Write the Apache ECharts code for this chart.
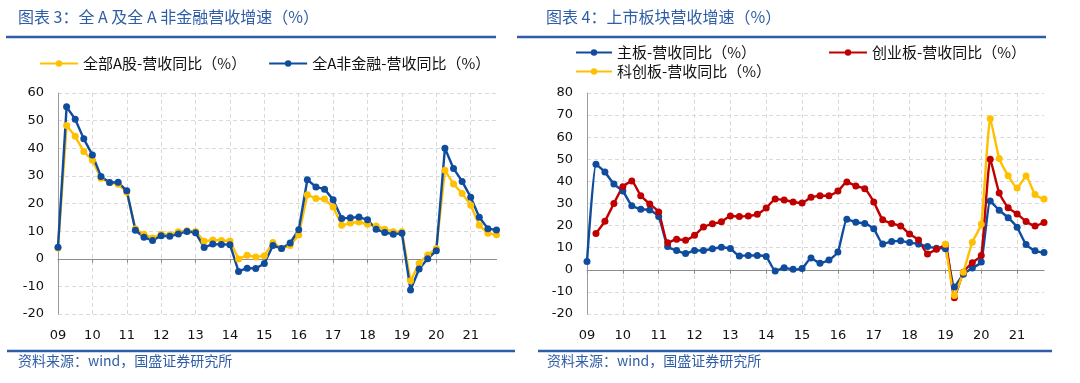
<!DOCTYPE html>
<html>
<head>
<meta charset="utf-8">
<script src="https://cdn.jsdelivr.net/npm/echarts@6/dist/echarts.min.js"></script>
<style>
html,body{margin:0;padding:0;background:#fff;}
#c{width:1080px;height:383px;}
</style>
</head>
<body>
<div id="c"></div>
<script>
// ---- data ----
const years = ['09','10','11','12','13','14','15','16','17','18','19','20','21'];
const quarters = ['Q1','Q2','Q3','Q4'];
const categories = [];
years.forEach(y => quarters.forEach(q => categories.push(y + q)));

const allA = [3.9, 48.2, 44.3, 38.8, 35.7, 29.1, 27.6, 27.0, 24.1, 10.9, 8.9, 7.5, 8.9, 8.7, 9.8, 10.1, 9.9, 6.3, 6.8, 6.6, 6.4, -0.1, 1.3, 0.6, 1.1, 5.9, 3.7, 4.8, 8.6, 23.2, 21.8, 21.6, 18.7, 12.1, 12.9, 13.3, 12.5, 11.9, 10.7, 9.8, 9.8, -8.0, -1.7, 1.4, 3.7, 32.0, 27.1, 23.6, 19.4, 12.1, 9.2, 8.7];
const allANonFin = [4.2, 55.0, 50.5, 43.4, 37.6, 29.8, 27.6, 27.7, 24.6, 10.3, 7.8, 6.6, 8.3, 8.1, 9.0, 9.9, 9.4, 4.1, 5.3, 5.2, 5.1, -4.6, -3.4, -3.5, -1.7, 4.8, 3.7, 5.7, 10.5, 28.6, 26.0, 25.2, 21.4, 14.6, 14.8, 15.1, 14.1, 10.7, 9.5, 8.9, 9.2, -11.3, -3.7, 0.0, 2.9, 40.0, 32.7, 28.0, 22.3, 15.0, 10.9, 10.4];

const mainBoard = [3.8, 47.8, 44.2, 38.8, 35.6, 29.0, 27.4, 27.1, 24.1, 10.5, 8.7, 7.4, 8.7, 8.7, 9.5, 10.2, 9.6, 6.3, 6.5, 6.5, 6.0, -0.5, 0.9, 0.2, 0.6, 5.3, 3.0, 4.4, 8.0, 22.9, 21.5, 21.0, 18.6, 11.7, 12.8, 13.1, 12.3, 11.7, 10.5, 9.8, 9.5, -7.8, -2.0, 0.8, 3.5, 31.1, 26.9, 23.6, 19.2, 11.4, 8.6, 7.8];
const gemBoard = [null, 16.4, 22.0, 30.0, 37.6, 40.2, 33.5, 29.8, 26.2, 12.2, 13.8, 13.4, 15.6, 19.4, 20.8, 21.7, 24.4, 24.1, 24.4, 25.1, 28.0, 32.0, 31.6, 30.7, 30.2, 32.8, 33.5, 33.5, 35.6, 39.7, 37.9, 36.7, 30.7, 22.6, 21.0, 19.8, 16.2, 13.5, 7.2, 9.3, 11.3, -12.6, -1.1, 3.2, 6.5, 50.0, 34.7, 28.1, 25.3, 21.8, 19.8, 21.4];
const starBoard = [null, null, null, null, null, null, null, null, null, null, null, null, null, null, null, null, null, null, null, null, null, null, null, null, null, null, null, null, null, null, null, null, null, null, null, null, null, null, null, null, 11.6, -11.6, -1.1, 12.5, 20.6, 68.4, 50.4, 42.6, 37.0, 42.4, 34.1, 32.0];

const names = {
  allA: '全部A股-营收同比（%）',
  nonFin: '全A非金融-营收同比（%）',
  main: '主板-营收同比（%）',
  gem: '创业板-营收同比（%）',
  star: '科创板-营收同比（%）'
};

// ---- styling ----
const BLUE = '#0F4C9E', YELLOW = '#FFC000', RED = '#C00000';
const TITLE_BLUE = '#2F5DA6';
const AXIS_FONT = 'DejaVu Sans';
const CJK = '"Noto Sans CJK SC", sans-serif';

function labelAxis(gridIndex) {
  return {
    type: 'category', gridIndex, data: categories, boundaryGap: false,
    position: 'bottom',
    axisLine: { show: false, onZero: false },
    axisTick: { show: false },
    axisLabel: {
      interval: 3, margin: 15, color: '#111', fontSize: 13, fontFamily: AXIS_FONT,
      formatter: v => v.slice(0, 2)
    },
    splitLine: { show: true, interval: 3, lineStyle: { color: '#D9D9D9', type: [4, 3], width: 1 } }
  };
}
function zeroAxis(gridIndex) {
  return {
    type: 'category', gridIndex, data: categories, boundaryGap: false,
    axisLine: { show: true, onZero: true, lineStyle: { color: '#8C8C8C', width: 1.2 } },
    axisTick: { show: true, interval: 3, inside: true, length: 4, lineStyle: { color: '#8C8C8C' } },
    axisLabel: { show: false },
    splitLine: { show: false }
  };
}
function valAxis(gridIndex, max) {
  return {
    type: 'value', gridIndex, min: -20, max, interval: 10,
    axisLine: { show: true, lineStyle: { color: '#9A9A9A', width: 1 } },
    axisTick: { show: false },
    axisLabel: { color: '#111', fontSize: 13, fontFamily: AXIS_FONT, margin: 14 },
    splitLine: { show: true, lineStyle: { color: '#D9D9D9', type: [4, 3], width: 1 } }
  };
}
function lineSeries(name, data, color, xi, yi, smooth) {
  return {
    name, type: 'line', data, xAxisIndex: xi, yAxisIndex: yi,
    symbol: 'circle', symbolSize: 7, showAllSymbol: true, smooth: smooth || false,
    lineStyle: { color, width: 2.4 }, itemStyle: { color },
    connectNulls: false, animation: false
  };
}
const legendText = { fontSize: 15, fontFamily: CJK, color: '#111' };

const option = {
  animation: false,
  backgroundColor: '#fff',
  grid: [
    { left: 58, top: 93, width: 438.5, height: 221, containLabel: false },
    { left: 587, top: 93, width: 457, height: 221, containLabel: false }
  ],
  xAxis: [labelAxis(0), zeroAxis(0), labelAxis(1), zeroAxis(1)],
  yAxis: [valAxis(0, 60), valAxis(1, 80)],
  legend: [
    { data: [names.allA, names.nonFin], left: 34, top: 51, itemWidth: 38, itemHeight: 8, itemGap: 22, textStyle: legendText, selectedMode: false },
    { data: [names.main], left: 570, top: 40, itemWidth: 36, itemHeight: 8, textStyle: legendText, selectedMode: false },
    { data: [names.gem], left: 823, top: 40, itemWidth: 38, itemHeight: 8, textStyle: legendText, selectedMode: false },
    { data: [names.star], left: 570, top: 59, itemWidth: 36, itemHeight: 8, textStyle: legendText, selectedMode: false }
  ],
  series: [
    lineSeries(names.allA, allA, YELLOW, 0, 0),
    lineSeries(names.nonFin, allANonFin, BLUE, 0, 0),
    lineSeries(names.main, mainBoard, BLUE, 2, 1, 0.15),
    lineSeries(names.gem, gemBoard, RED, 2, 1, 0.15),
    lineSeries(names.star, starBoard, YELLOW, 2, 1, 0.15)
  ],
  graphic: [
    { type: 'text', left: 18, top: 9, style: { text: '图表 3：全 A 及全 A 非金融营收增速（%）', fill: TITLE_BLUE, fontSize: 16, fontFamily: CJK } },
    { type: 'text', left: 546, top: 9, style: { text: '图表 4：上市板块营收增速（%）', fill: TITLE_BLUE, fontSize: 16, fontFamily: CJK } },
    { type: 'line', shape: { x1: 6, y1: 37, x2: 496, y2: 37 }, style: { stroke: TITLE_BLUE, lineWidth: 2.5 } },
    { type: 'line', shape: { x1: 517, y1: 37, x2: 1046, y2: 37 }, style: { stroke: TITLE_BLUE, lineWidth: 2.5 } },
    { type: 'line', shape: { x1: 7, y1: 351, x2: 515, y2: 351 }, style: { stroke: TITLE_BLUE, lineWidth: 2.5 } },
    { type: 'line', shape: { x1: 538, y1: 351, x2: 1052, y2: 351 }, style: { stroke: TITLE_BLUE, lineWidth: 2.5 } },
    { type: 'text', left: 18, top: 354, style: { text: '资料来源：wind，国盛证券研究所', fill: TITLE_BLUE, fontSize: 14, fontFamily: CJK } },
    { type: 'text', left: 547, top: 354, style: { text: '资料来源：wind，国盛证券研究所', fill: TITLE_BLUE, fontSize: 14, fontFamily: CJK } }
  ]
};

const chart = echarts.init(document.getElementById('c'), null, { renderer: 'canvas' });
chart.setOption(option);
</script>
</body>
</html>
